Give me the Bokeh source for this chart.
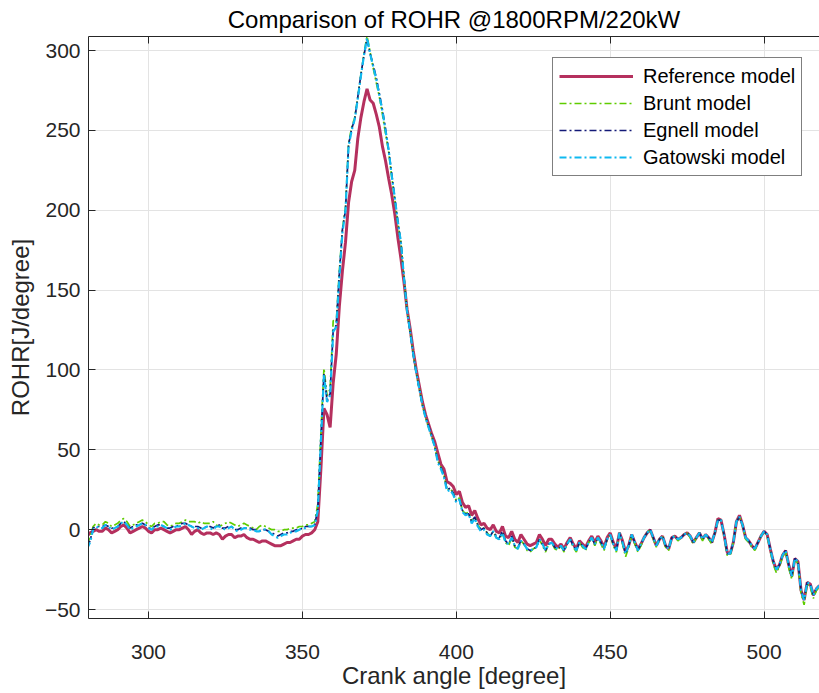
from bokeh.plotting import figure
from bokeh.models import Range1d, LinearAxis, FixedTicker, Legend, LegendItem
from bokeh.embed import file_html
from bokeh.resources import INLINE

crank_angle = list(range(280, 519))

reference_model = [
    -4, -2, -1, 0, -1, -1, 1, 0, -2, -1,
    0, 2, 3, 1, -2, -1, 0, 1, 2, 1,
    -1, -2, 0, 0, 1, 0, -1, -2, -1, 0,
    0, 1, 2, 0, -3, -1, 0, -2, -3, -2,
    -2, -3, -2, -3, -6, -4, -3, -3, -5, -4,
    -4, -3, -5, -6, -6, -7, -8, -7, -7, -8,
    -9, -10, -10, -10, -9, -8, -8, -7, -6, -6,
    -4, -3, -3, -2, 0, 5, 38, 76, 72, 64,
    92, 110, 140, 162, 180, 205, 218, 225, 245, 258,
    268, 276, 269, 267, 260, 252, 240, 231, 220, 210,
    198, 183, 170, 155, 138, 126, 112, 100, 90, 80,
    72, 66, 60, 55, 48, 41, 38, 30, 29, 27,
    22, 24, 17, 14, 15, 9, 12, 7, 3, 4,
    1, 0, 3, -1, -2, 2, -4, -5, -1, -6,
    -8, -3, -6, -9, -10, -9, -8, -3, -6, -10,
    -6, -6, -9, -11, -9, -12, -8, -5, -9, -12,
    -7, -9, -11, -7, -4, -8, -4, -7, -11, -5,
    -2, -8, -12, -2, -7, -14, -10, -3, -8, -12,
    -9, -5, -2, 0, -5, -10, -6, -4, -10, -12,
    -5, -4, -6, -5, -3, -2, -4, -8, -5, -2,
    -6, -3, -5, -8, -2, 7, 6, -3, -14, -15,
    -8, 5, 9, 3, -5, -7, -10, -12, -8, -4,
    -1, -3, -12, -20, -25, -22, -16, -13, -22, -29,
    -18, -20, -38, -44, -33, -34, -41, -37, -35,
]

brunt_model = [
    -9, -5, 2, 4, 3, 3, 5, 4, 2, 3,
    4, 6, 7, 5, 2, 3, 4, 5, 6, 5,
    3, 2, 4, 4, 5, 5, 3, 2, 3, 4,
    4, 5, 6, 5, 5, 5, 4, 5, 4, 4,
    4, 5, 3, 2, 3, 4, 5, 4, 3, 2,
    3, 4, 3, 2, 1, 0, 2, 3, 2, 1,
    0, 0, -1, -1, 0, 0, 1, 1, 1, 2,
    2, 3, 3, 4, 5, 16, 60, 101, 84, 88,
    131, 130, 162, 188, 202, 242, 252, 258, 271, 285,
    298, 309, 299, 289, 280, 271, 260, 248, 237, 221,
    207, 192, 180, 158, 137, 124, 110, 98, 88, 78,
    70, 64, 58, 52, 43, 39, 34, 25, 26, 23,
    18, 20, 12, 10, 11, 5, 8, 3, 0, 1,
    -2, -4, -1, -5, -6, -2, -8, -10, -5, -11,
    -12, -7, -9, -13, -14, -12, -11, -6, -10, -14,
    -9, -8, -12, -13, -10, -14, -9, -6, -11, -14,
    -8, -11, -13, -8, -5, -10, -5, -9, -13, -6,
    -3, -10, -14, -2, -9, -17, -11, -3, -9, -14,
    -10, -5, -2, 0, -6, -11, -6, -4, -11, -13,
    -5, -4, -7, -5, -3, -2, -5, -9, -5, -2,
    -7, -3, -6, -9, -2, 6, 6, -4, -16, -16,
    -8, 5, 8, 3, -6, -8, -11, -13, -8, -4,
    -1, -4, -13, -22, -27, -23, -17, -14, -24, -31,
    -19, -21, -40, -47, -34, -36, -43, -38, -36,
]

egnell_model = [
    -11, -7, 1, 2, 2, 2, 3, 2, 1, 1,
    2, 4, 5, 3, 1, 2, 3, 3, 4, 3,
    1, 1, 2, 3, 3, 2, 1, 1, 2, 2,
    3, 4, 4, 3, 2, 2, 2, 1, 1, 2,
    2, 1, 2, 3, 1, 1, 2, 2, 0, 0,
    1, 1, 1, 1, 0, 0, -1, 0, 0, -1,
    -2, -3, -4, -3, -2, -2, -1, -1, 0, 0,
    1, 2, 2, 2, 3, 13, 57, 98, 81, 85,
    125, 128, 160, 188, 200, 241, 251, 257, 271, 285,
    297, 307, 298, 291, 283, 273, 263, 251, 238, 223,
    208, 193, 180, 158, 137, 124, 110, 98, 88, 78,
    71, 65, 59, 52, 43, 39, 34, 25, 26, 23,
    18, 19, 12, 10, 10, 5, 8, 3, 0, 1,
    -2, -4, -1, -4, -5, -1, -7, -9, -4, -10,
    -11, -7, -9, -12, -13, -12, -11, -6, -9, -13,
    -9, -8, -11, -12, -10, -13, -9, -6, -10, -13,
    -8, -10, -12, -8, -5, -9, -5, -8, -12, -6,
    -3, -9, -13, -2, -8, -15, -10, -3, -8, -13,
    -9, -5, -2, 0, -5, -10, -6, -4, -10, -12,
    -5, -4, -6, -5, -3, -2, -4, -8, -5, -2,
    -6, -3, -5, -8, -2, 6, 6, -3, -15, -15,
    -8, 5, 8, 3, -5, -7, -10, -12, -8, -4,
    -1, -3, -12, -20, -25, -22, -16, -13, -22, -29,
    -18, -20, -38, -44, -33, -34, -41, -37, -35,
]

gatowski_model = [
    -12, -8, 0, 2, 1, 1, 3, 2, 0, 1,
    2, 4, 5, 3, 0, 1, 2, 3, 4, 3,
    1, 0, 2, 2, 3, 2, 1, 0, 1, 2,
    2, 3, 4, 3, 2, 1, 1, 0, 1, 2,
    1, 0, 2, 2, 1, 0, 1, 2, 0, -1,
    0, 1, 1, 0, 0, -1, -1, 0, 0, -1,
    -3, -4, -5, -4, -3, -3, -2, -1, -1, 0,
    1, 1, 2, 2, 3, 12, 55, 97, 80, 84,
    124, 127, 158, 186, 200, 240, 250, 257, 270, 284,
    297, 308, 298, 290, 282, 272, 262, 250, 238, 222,
    208, 193, 180, 158, 137, 124, 110, 98, 88, 78,
    70, 64, 58, 52, 42, 38, 33, 24, 25, 22,
    17, 19, 11, 9, 10, 4, 7, 2, -1, 0,
    -3, -4, -1, -5, -6, -2, -8, -9, -5, -10,
    -12, -7, -9, -12, -13, -12, -11, -6, -9, -13,
    -9, -8, -11, -12, -10, -13, -9, -6, -10, -13,
    -8, -10, -12, -8, -5, -9, -5, -8, -12, -6,
    -3, -9, -13, -2, -8, -15, -10, -3, -8, -13,
    -9, -5, -2, 0, -5, -10, -6, -4, -10, -12,
    -5, -4, -6, -5, -3, -2, -4, -8, -5, -2,
    -6, -3, -5, -8, -2, 6, 6, -3, -15, -15,
    -8, 5, 8, 3, -5, -7, -10, -12, -8, -4,
    -1, -3, -12, -20, -25, -22, -16, -13, -22, -29,
    -18, -20, -38, -44, -33, -34, -41, -37, -35,
]

x_ticks = [300, 350, 400, 450, 500]
y_ticks = [-50, 0, 50, 100, 150, 200, 250, 300]
series_labels = ["Reference model", "Brunt model", "Egnell model", "Gatowski model"]

FONT = "Liberation Sans"

p = figure(width=819, height=693, output_backend="svg", toolbar_location=None,
           x_range=Range1d(280.5, 518), y_range=Range1d(-55.6, 308.8),
           min_border_left=88, min_border_right=0, min_border_top=36, min_border_bottom=75,
           title="Comparison of ROHR @1800RPM/220kW")
p.outline_line_color = None
p.background_fill_color = "white"
p.border_fill_color = "white"

p.title.align = "center"
p.title.text_font = FONT
p.title.text_font_size = "24px"
p.title.text_font_style = "normal"
p.title.text_color = "black"
p.title.standoff = 7

for ax in (p.xaxis[0], p.yaxis[0]):
    ax.major_label_text_font = FONT
    ax.major_label_text_font_size = "21px"
    ax.major_label_text_color = "#262626"
    ax.axis_label_text_font = FONT
    ax.axis_label_text_font_size = "24px"
    ax.axis_label_text_font_style = "normal"
    ax.axis_label_text_color = "#262626"
    ax.axis_line_color = "#262626"
    ax.major_tick_line_color = "#262626"
    ax.major_tick_in = 7
    ax.major_tick_out = 0
    ax.minor_tick_line_color = None

p.xaxis.ticker = FixedTicker(ticks=x_ticks)
p.yaxis.ticker = FixedTicker(ticks=y_ticks)
p.xaxis.axis_label = "Crank angle [degree]"
p.yaxis.axis_label = "ROHR[J/degree]"
p.xaxis.major_label_standoff = 26
p.yaxis.major_label_standoff = 8
p.xaxis.axis_label_standoff = 0
p.yaxis.axis_label_standoff = 8

top = LinearAxis(ticker=FixedTicker(ticks=x_ticks), major_label_text_font_size="1px",
                 major_label_text_color=None,
                 major_tick_in=7, major_tick_out=0, minor_tick_line_color=None,
                 axis_line_color="#262626", major_tick_line_color="#262626",
                 major_label_standoff=0)
p.add_layout(top, "above")

p.xgrid.grid_line_color = "#E3E3E3"
p.ygrid.grid_line_color = "#E3E3E3"
p.xgrid.ticker = FixedTicker(ticks=x_ticks)
p.ygrid.ticker = FixedTicker(ticks=y_ticks)

dash = "7 3 2 3"
r_ref = p.line(crank_angle, reference_model, line_color="#B5305E", line_width=3)
r_b = p.line(crank_angle, brunt_model, line_color="#5FCC00", line_width=1.7, line_dash=dash)
r_e = p.line(crank_angle, egnell_model, line_color="#141A78", line_width=1.7, line_dash=dash)
r_g = p.line(crank_angle, gatowski_model, line_color="#10B9F0", line_width=2.2, line_dash=dash)

legend = Legend(items=[LegendItem(label=series_labels[0], renderers=[r_ref]),
                       LegendItem(label=series_labels[1], renderers=[r_b]),
                       LegendItem(label=series_labels[2], renderers=[r_e]),
                       LegendItem(label=series_labels[3], renderers=[r_g])],
                location=(464, 442))
legend.margin = 0
legend.padding = 6
legend.spacing = 3
legend.glyph_width = 74
legend.glyph_height = 24
legend.label_height = 24
legend.label_standoff = 10
legend.label_text_font = FONT
legend.label_text_font_size = "20px"
legend.label_text_color = "black"
legend.border_line_color = "black"
legend.border_line_width = 1
legend.background_fill_color = "white"
legend.background_fill_alpha = 1
p.add_layout(legend, "center")

open("out.html", "w").write(file_html(p, INLINE))
